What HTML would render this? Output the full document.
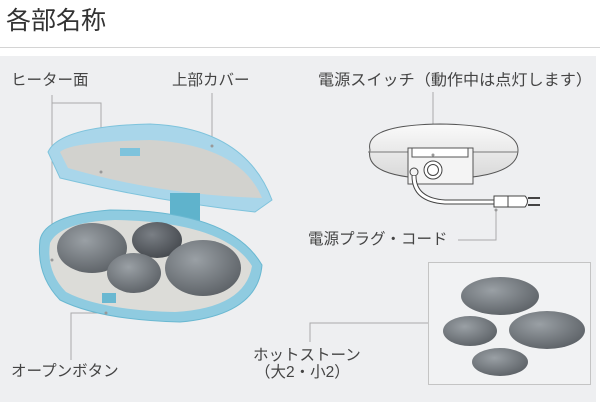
<!DOCTYPE html>
<html><head><meta charset="utf-8"><style>
body{margin:0;background:#fff;width:600px;height:410px;overflow:hidden;font-family:"Liberation Sans","Noto Sans CJK JP",sans-serif}
</style></head><body>
<svg width="600" height="410" viewBox="0 0 600 410" xmlns="http://www.w3.org/2000/svg" font-family="Liberation Sans, Noto Sans CJK JP, sans-serif">
<defs>
<radialGradient id="st" cx="40%" cy="35%" r="70%"><stop offset="0" stop-color="#9aa0a5"/><stop offset="1" stop-color="#5c6166"/></radialGradient>
<radialGradient id="st2" cx="40%" cy="35%" r="70%"><stop offset="0" stop-color="#7a7f85"/><stop offset="1" stop-color="#44484d"/></radialGradient>
<linearGradient id="pill" x1="0" y1="0" x2="0" y2="1"><stop offset="0" stop-color="#fafafa"/><stop offset="1" stop-color="#d8d8d8"/></linearGradient>
</defs>
<rect width="600" height="410" fill="#fff"/>
<text x="6" y="29" font-size="25" fill="#333">各部名称</text>
<line x1="0" y1="47.5" x2="600" y2="47.5" stroke="#d4d4d4"/>
<rect x="0" y="56" width="596" height="346" fill="#eeeff1"/>
<g font-size="15.5" fill="#444">
<text x="11" y="85">ヒーター面</text>
<text x="172" y="85">上部カバー</text>
<text x="318" y="85" textLength="274" lengthAdjust="spacingAndGlyphs">電源スイッチ（動作中は点灯します）</text>
<text x="308" y="244">電源プラグ・コード</text>
<text x="11" y="376">オープンボタン</text>
<text x="253" y="360">ホットストーン</text>
<text x="255" y="377">（大2・小2）</text>
</g>
<g stroke="#aaa" fill="none" stroke-width="1">
<polyline points="52,95 52,260"/>
<polyline points="52,103 101,103 101,172"/>
<line x1="212" y1="93" x2="212" y2="146"/>
<polyline points="71,360 71,313 106,313"/>
<line x1="433" y1="92" x2="433" y2="155"/>
<polyline points="458,240 496,240 496,210"/>
<polyline points="310,342 310,323 428,323"/>
</g>
<rect x="428.5" y="262.5" width="162" height="122" fill="#f1f2f3" stroke="#c4c4c4"/>
<ellipse cx="500" cy="296" rx="39" ry="19" fill="url(#st)"/>
<ellipse cx="470" cy="331" rx="27" ry="15" fill="url(#st)"/>
<ellipse cx="547" cy="330" rx="38" ry="19" fill="url(#st)"/>
<ellipse cx="500" cy="362" rx="28" ry="14" fill="url(#st)"/>
<path d="M48,152 Q60,126 150,124 Q245,128 272,200 L255,212 Q160,202 60,178 Z" fill="#a9d6ea" stroke="#7ec3dc"/>
<path d="M60,152 Q70,142 150,140 Q240,145 262,198 Q160,195 68,168 Z" fill="#d2d2ce"/>
<rect x="120" y="148" width="20" height="8" fill="#7ec3dc"/>
<rect x="170" y="193" width="30" height="28" fill="#5fb3cc"/>
<path d="M40,240 Q45,215 110,210 Q230,210 262,265 Q258,315 180,322 Q100,320 60,300 Q36,275 40,240 Z" fill="#8fcbe0" stroke="#6ab8d1"/>
<path d="M50,243 Q60,222 115,220 Q225,222 252,266 Q245,308 175,312 Q100,310 66,292 Q46,272 50,243 Z" fill="#dcdcd8"/>
<ellipse cx="92" cy="248" rx="35" ry="25" fill="url(#st)"/>
<ellipse cx="157" cy="240" rx="25" ry="18" fill="url(#st2)"/>
<ellipse cx="134" cy="273" rx="27" ry="20" fill="url(#st)"/>
<ellipse cx="203" cy="268" rx="38" ry="28" fill="url(#st)"/>
<rect x="102" y="293" width="14" height="10" fill="#6ab8d1"/>
<path d="M370,150 Q364,125 440,124 Q518,125 518,150 Q518,178 440,179 Q364,178 370,150 Z" fill="url(#pill)" stroke="#555"/>
<line x1="368" y1="152" x2="518" y2="152" stroke="#777"/>
<rect x="408" y="148" width="65" height="36" fill="#f4f4f4" stroke="#555"/>
<rect x="412" y="148" width="56" height="9" fill="#fff" stroke="#555"/>
<circle cx="433" cy="170" r="9" fill="#fff" stroke="#444"/>
<circle cx="433" cy="170" r="5.5" fill="none" stroke="#444"/>
<circle cx="414" cy="172" r="4" fill="none" stroke="#444"/>
<path d="M414,176 Q414,200 445,202 L495,202" fill="none" stroke="#444" stroke-width="5"/>
<path d="M414,176 Q414,200 445,202 L495,202" fill="none" stroke="#fff" stroke-width="3"/>
<rect x="494" y="196" width="14" height="11" fill="#fff" stroke="#444"/>
<path d="M508,196 L525,196 Q530,201 525,207 L508,207 Z" fill="#fff" stroke="#444"/>
<line x1="528" y1="198" x2="540" y2="198" stroke="#444" stroke-width="2"/>
<line x1="528" y1="205" x2="540" y2="205" stroke="#444" stroke-width="2"/>
<g fill="#999"><circle cx="101" cy="172" r="1.5"/><circle cx="212" cy="146" r="1.5"/><circle cx="52" cy="260" r="1.5"/><circle cx="106" cy="313" r="1.5"/><circle cx="433" cy="155" r="1.5"/><circle cx="496" cy="210" r="1.5"/></g>
</svg>
</body></html>
